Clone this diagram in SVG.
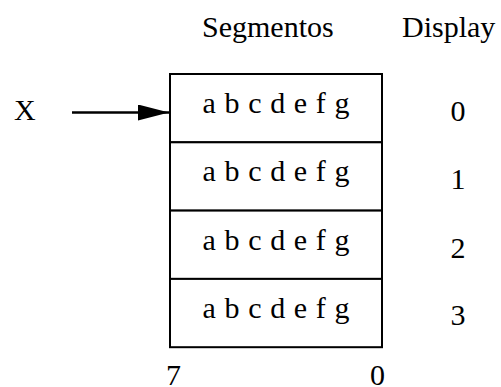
<svg xmlns="http://www.w3.org/2000/svg" width="501" height="387" viewBox="0 0 501 387">
<style>
text{font-family:"Liberation Serif","Times New Roman",serif;font-size:30px;fill:#000}
.box{fill:#fff;stroke:#000;stroke-width:2}
.c{text-anchor:middle}
</style>
<defs>
<marker id="ah" markerUnits="userSpaceOnUse" markerWidth="32" markerHeight="16" refX="31" refY="8" orient="auto">
<path d="M0,0 L31,8 L0,16 Z" fill="#000"/>
</marker>
</defs>
<rect width="501" height="387" fill="#fff"/>
<g id="headers">
<text x="202" y="37">Segmentos</text>
<text x="402" y="37">Display</text>
</g>
<g id="inputX"><text x="14" y="120">X</text></g>
<g id="row0">
<rect class="box" x="170" y="74" width="212" height="68.3"/>
<text class="c" x="276" y="113" textLength="147">a b c d e f g</text>
<text class="c" x="458" y="121">0</text>
</g>
<g id="row1">
<rect class="box" x="170" y="142.3" width="212" height="68.3"/>
<text class="c" x="276" y="181" textLength="147">a b c d e f g</text>
<text class="c" x="458" y="189">1</text>
</g>
<g id="row2">
<rect class="box" x="170" y="210.6" width="212" height="68.3"/>
<text class="c" x="276" y="250" textLength="147">a b c d e f g</text>
<text class="c" x="458" y="258">2</text>
</g>
<g id="row3">
<rect class="box" x="170" y="278.9" width="212" height="68.3"/>
<text class="c" x="276" y="318" textLength="147">a b c d e f g</text>
<text class="c" x="458" y="325">3</text>
</g>
<g id="bits">
<text x="166" y="385">7</text>
<text x="370" y="385">0</text>
</g>
<g id="connectors">
<line x1="72" y1="112.5" x2="169" y2="112.5" stroke="#000" stroke-width="2.5" marker-end="url(#ah)"/>
</g>
</svg>
